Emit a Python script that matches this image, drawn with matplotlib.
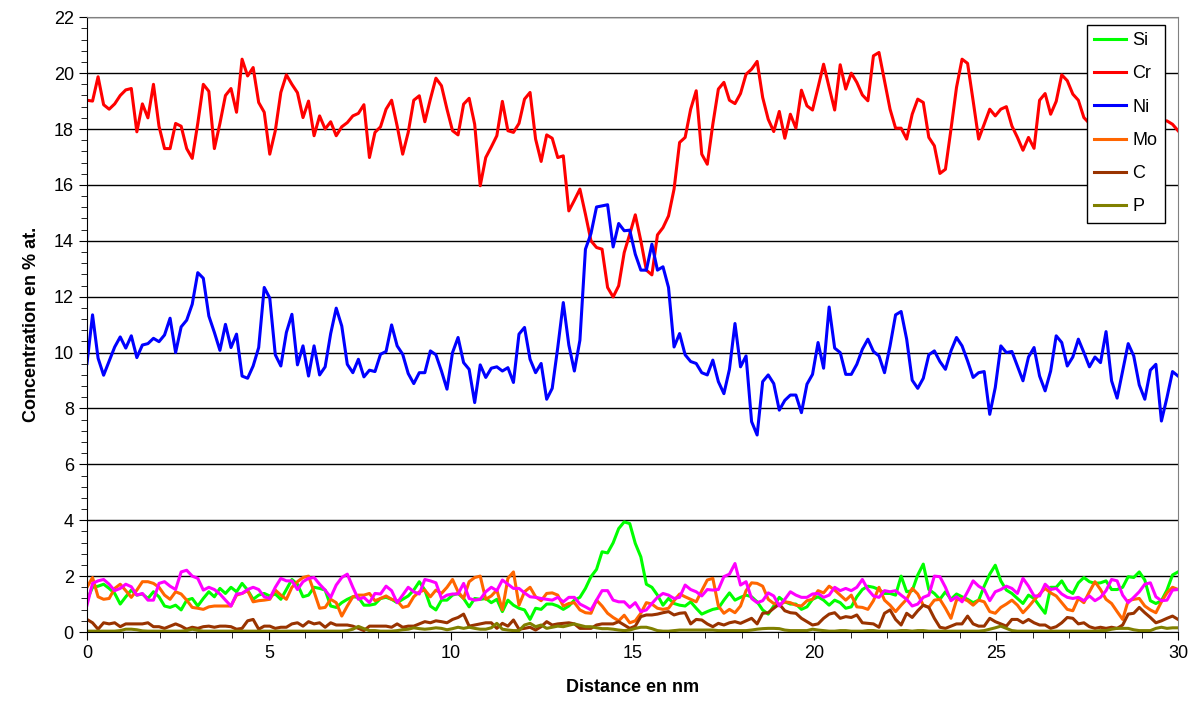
import numpy as np
import matplotlib.pyplot as plt
from matplotlib.ticker import MultipleLocator

plt.rcParams['font.family'] = ['Liberation Sans', 'DejaVu Sans']

# concentration profiles (% at.), one value every ~0.152 nm from 0 to 30 nm
cr = [19.03, 19.0, 19.87, 18.87, 18.71, 18.9, 19.2, 19.4, 19.45, 17.9,
      18.9, 18.4, 19.6, 18.1, 17.3, 17.3, 18.2, 18.1, 17.3, 16.95,
      18.2, 19.6, 19.35, 17.3, 18.2, 19.2, 19.45, 18.6, 20.5, 19.9,
      20.2, 18.95, 18.6, 17.1, 17.94, 19.31, 19.94, 19.6, 19.3, 18.41,
      19.0, 17.76, 18.47, 18.0, 18.26, 17.76, 18.08, 18.23, 18.47, 18.56,
      18.87, 16.98, 17.88, 18.08, 18.71, 19.03, 18.11, 17.1, 17.88, 19.03,
      19.19, 18.26, 19.07, 19.82, 19.55, 18.71, 17.94, 17.79, 18.89, 19.1,
      18.17, 15.97, 16.98, 17.36, 17.76, 18.99, 17.94, 17.88, 18.2, 19.07,
      19.31, 17.64, 16.84, 17.79, 17.67, 16.98, 17.04, 15.07, 15.45, 15.85,
      14.95, 14.0, 13.76, 13.7, 12.33, 11.99, 12.39, 13.58, 14.24, 14.93,
      14.0, 12.95, 12.78, 14.21, 14.47, 14.89, 15.85, 17.52, 17.7, 18.71,
      19.37, 17.1, 16.74, 18.17, 19.43, 19.67, 19.03, 18.91, 19.27, 19.96,
      20.14, 20.42, 19.13, 18.35, 17.91, 18.63, 17.67, 18.53, 18.03, 19.39,
      18.83, 18.68, 19.49, 20.32, 19.49, 18.68, 20.3, 19.43, 20.0, 19.67,
      19.22, 19.01, 20.62, 20.74, 19.73, 18.71, 18.03, 18.03, 17.64, 18.53,
      19.07, 18.95, 17.7, 17.4, 16.41, 16.56, 17.99, 19.49, 20.5, 20.35,
      19.01, 17.64, 18.17, 18.71, 18.47, 18.71, 18.8, 18.11, 17.7, 17.24,
      17.7, 17.31, 19.03, 19.27, 18.53, 18.99, 19.94, 19.73, 19.25, 19.03,
      18.41, 18.2, 18.6, 19.0, 18.4, 17.9, 18.3, 18.8, 18.5, 18.0,
      18.4, 18.9, 18.6, 18.1, 18.3, 18.29, 18.17, 17.94]

ni = [9.61, 11.35, 9.8, 9.19, 9.7, 10.2, 10.56, 10.16, 10.6, 9.82,
      10.27, 10.32, 10.51, 10.39, 10.63, 11.23, 10.0, 10.92, 11.16, 11.73,
      12.86, 12.66, 11.31, 10.72, 10.08, 11.01, 10.18, 10.66, 9.16, 9.08,
      9.52, 10.18, 12.33, 11.95, 9.92, 9.52, 10.72, 11.37, 9.56, 10.24,
      9.16, 10.24, 9.2, 9.49, 10.68, 11.59, 10.95, 9.58, 9.28, 9.76,
      9.13, 9.37, 9.32, 9.94, 10.04, 10.99, 10.24, 9.94, 9.25, 8.89,
      9.28, 9.28, 10.06, 9.92, 9.34, 8.69, 10.0, 10.54, 9.64, 9.4,
      8.21, 9.56, 9.11, 9.44, 9.49, 9.34, 9.46, 8.93, 10.66, 10.9,
      9.76, 9.28, 9.61, 8.33, 8.72, 10.18, 11.79, 10.27, 9.34, 10.44,
      13.7, 14.26, 15.21, 15.25, 15.29, 13.78, 14.62, 14.36, 14.38, 13.52,
      12.95, 12.95, 13.88, 12.95, 13.07, 12.33, 10.2, 10.68, 9.92, 9.68,
      9.61, 9.28, 9.2, 9.73, 8.96, 8.53, 9.4, 11.04, 9.49, 9.88,
      7.53, 7.05, 8.96, 9.2, 8.89, 7.94, 8.29, 8.48, 8.48, 7.85,
      8.87, 9.22, 10.36, 9.44, 11.63, 10.16, 10.0, 9.22, 9.22, 9.58,
      10.12, 10.48, 10.04, 9.88, 9.28, 10.24, 11.35, 11.47, 10.48, 9.01,
      8.72, 9.08, 9.92, 10.06, 9.68, 9.4, 10.06, 10.54, 10.24, 9.7,
      9.11, 9.28, 9.32, 7.79, 8.75, 10.24, 10.0, 10.04, 9.52, 8.99,
      9.84, 10.18, 9.16, 8.63, 9.34, 10.6, 10.36, 9.52, 9.84, 10.48,
      10.0, 9.49, 9.84, 9.64, 10.75, 8.99, 8.37, 9.34, 10.32, 9.88,
      8.84, 8.33, 9.37, 9.58, 7.55, 8.39, 9.32, 9.16]

si = [1.14, 1.6, 1.64, 1.71, 1.56, 1.38, 1.0, 1.26, 1.5, 1.32,
      1.36, 1.2, 1.44, 1.26, 0.93, 0.88, 0.96, 0.79, 1.14, 1.2,
      0.93, 1.2, 1.44, 1.26, 1.56, 1.38, 1.6, 1.44, 1.74, 1.5,
      1.17, 1.32, 1.38, 1.29,
      1.36, 1.17, 1.52, 1.88, 1.71, 1.26, 1.32, 1.6, 1.56, 1.5,
      0.93, 0.88, 1.05, 1.17, 1.26, 1.24, 0.96, 0.96, 1.0, 1.2,
      1.24, 1.17, 1.05, 1.17, 1.29, 1.5, 1.8, 1.5, 0.93, 0.79,
      1.14, 1.14, 1.32,
      1.38, 1.2, 0.9, 1.2, 1.17, 1.2, 1.05, 1.17, 0.73, 1.14,
      0.96, 0.85, 0.79, 0.45, 0.85, 0.81, 1.0, 1.0, 0.93, 0.81,
      0.93, 1.14, 1.24, 1.56, 1.98, 2.24, 2.87, 2.83, 3.19, 3.7,
      3.94, 3.88,
      3.17, 2.69, 1.71, 1.6, 1.32, 0.96, 1.2, 1.02, 0.96, 0.93,
      1.08, 0.85, 0.64, 0.73, 0.81, 0.85, 1.14, 1.4, 1.14, 1.24,
      1.32, 1.26, 1.08, 0.79, 0.64, 0.93, 1.24, 1.08, 1.0, 1.0,
      0.81, 0.9, 1.17,
      1.26, 1.14, 0.96, 1.14, 1.05, 0.85, 0.9, 1.26, 1.52, 1.64,
      1.6, 1.52, 1.38, 1.38, 1.32, 2.0, 1.44, 1.48, 2.04, 2.43,
      1.52, 1.38, 1.17, 1.44, 1.17, 1.36, 1.26, 1.17, 1.05, 1.14,
      1.64, 2.07, 2.39,
      1.83, 1.5, 1.38, 1.2, 1.02, 1.32, 1.2, 0.93, 0.67, 1.6,
      1.6, 1.83, 1.5, 1.38, 1.76, 1.95, 1.8, 1.74, 1.76, 1.83,
      1.52, 1.52, 1.6, 1.98, 1.95, 2.15, 1.86, 1.12, 1.02, 1.12,
      1.5, 2.04, 2.15]

mo = [1.6, 1.95, 1.26, 1.17, 1.2, 1.56, 1.71, 1.48, 1.24, 1.5,
      1.8, 1.8, 1.74, 1.6, 1.32, 1.17, 1.44, 1.36, 1.14, 0.88,
      0.85, 0.81, 0.9, 0.93, 0.93, 0.93, 0.93, 1.32, 1.38, 1.48,
      1.08, 1.12, 1.14, 1.17,
      1.5, 1.32, 1.17, 1.6, 1.8, 1.95, 2.0, 1.44, 0.85, 0.88,
      1.17, 1.05, 0.57, 0.93, 1.26, 1.32, 1.32, 1.38, 1.12, 1.2,
      1.29, 1.17, 1.12, 0.88, 0.93, 1.26, 1.44, 1.5, 1.26, 1.5,
      1.38, 1.6, 1.88,
      1.44, 1.2, 1.8, 1.95, 2.0, 1.17, 1.29, 1.5, 0.79, 1.92,
      2.15, 0.96, 1.44, 1.6, 1.26, 1.12, 1.38, 1.4, 1.32, 0.93,
      1.02, 1.05, 0.79, 0.69, 0.67, 1.14, 0.93, 0.67, 0.52, 0.4,
      0.6, 0.33,
      0.4, 0.67, 1.05, 1.0, 0.85, 0.81, 0.85, 1.12, 1.36, 1.26,
      1.17, 1.08, 1.48, 1.86, 1.92, 0.93, 0.67, 0.81, 0.69, 0.93,
      1.48, 1.76, 1.74, 1.64, 1.17, 1.02, 0.96, 1.08, 1.05, 0.96,
      0.93, 1.12, 1.17,
      1.48, 1.4, 1.64, 1.5, 1.32, 1.14, 1.32, 0.9, 0.88, 0.81,
      1.12, 1.6, 1.14, 0.96, 0.73, 0.96, 1.17, 1.56, 1.36, 0.96,
      0.88, 1.14, 1.17, 0.85, 0.49, 1.14, 1.2, 1.12, 0.96, 1.14,
      1.08, 0.73, 0.67,
      0.88, 1.0, 1.14, 0.96, 0.69, 0.9, 1.14, 1.36, 1.56, 1.4,
      1.29, 1.05, 0.81, 0.76, 1.2, 1.05, 1.44, 1.8, 1.52, 1.17,
      1.02, 0.73, 0.45, 1.12, 1.17, 1.2, 0.93, 0.79, 0.69, 1.08,
      1.4, 1.6, 1.52]

c = [0.45, 0.33, 0.1, 0.33, 0.29, 0.33, 0.19, 0.29, 0.29, 0.29,
     0.29, 0.33, 0.19, 0.19, 0.13, 0.21, 0.29, 0.21, 0.1, 0.17,
     0.13, 0.19, 0.21, 0.17, 0.21, 0.21, 0.19, 0.1, 0.13, 0.4,
     0.45, 0.1, 0.21, 0.21,
     0.13, 0.17, 0.17, 0.29, 0.33, 0.21, 0.37, 0.29, 0.33, 0.17,
     0.33, 0.25, 0.25, 0.25, 0.21, 0.13, 0.05, 0.21, 0.21, 0.21,
     0.21, 0.17, 0.29, 0.17, 0.21, 0.21, 0.29, 0.37, 0.33, 0.4,
     0.37, 0.33, 0.45,
     0.52, 0.64, 0.21, 0.25, 0.29, 0.33, 0.33, 0.13, 0.31, 0.21,
     0.43, 0.1, 0.13, 0.17, 0.07, 0.19, 0.37, 0.25, 0.29, 0.31,
     0.33, 0.29, 0.13, 0.13, 0.13, 0.25, 0.29, 0.29, 0.29, 0.37,
     0.25, 0.13,
     0.21, 0.55, 0.61, 0.61, 0.64, 0.69, 0.73, 0.61, 0.67, 0.69,
     0.29, 0.45, 0.43, 0.29, 0.19, 0.31, 0.25, 0.33, 0.37, 0.31,
     0.4, 0.49, 0.29, 0.67, 0.69, 0.85, 1.0, 0.76, 0.69, 0.67,
     0.49, 0.37, 0.25,
     0.29, 0.49, 0.64, 0.69, 0.49, 0.55, 0.52, 0.61, 0.33, 0.31,
     0.29, 0.17, 0.67, 0.79, 0.45, 0.25, 0.67, 0.52, 0.76, 0.96,
     0.88, 0.49, 0.17, 0.13, 0.21, 0.29, 0.29, 0.57, 0.29, 0.21,
     0.21, 0.49, 0.37,
     0.29, 0.21, 0.45, 0.45, 0.33, 0.45, 0.33, 0.25, 0.25, 0.13,
     0.19, 0.33, 0.52, 0.49, 0.29, 0.33, 0.19, 0.13, 0.17, 0.13,
     0.17, 0.13, 0.25, 0.64, 0.67, 0.88, 0.69, 0.52, 0.33, 0.4,
     0.49, 0.57, 0.45]

p = [0.03, 0.03, 0.03, 0.03, 0.03, 0.03, 0.05, 0.1, 0.1, 0.08,
     0.04, 0.03, 0.03, 0.03, 0.03, 0.03, 0.03, 0.03, 0.05, 0.1,
     0.06, 0.03, 0.03, 0.03, 0.03, 0.03, 0.03, 0.03, 0.03, 0.03,
     0.03, 0.03, 0.03, 0.03,
     0.03, 0.03, 0.03, 0.03, 0.03, 0.03, 0.03, 0.03, 0.03, 0.03,
     0.03, 0.03, 0.03, 0.05, 0.1, 0.2, 0.12, 0.05, 0.05, 0.03,
     0.03, 0.03, 0.05, 0.08, 0.1, 0.15, 0.12, 0.1, 0.12, 0.15,
     0.13, 0.08, 0.12,
     0.17, 0.13, 0.17, 0.13, 0.1, 0.1, 0.15, 0.31, 0.1, 0.07,
     0.05, 0.05, 0.25, 0.31, 0.19, 0.25, 0.13, 0.17, 0.21, 0.19,
     0.24, 0.29, 0.24, 0.19, 0.19, 0.15, 0.12, 0.12, 0.1, 0.07,
     0.05, 0.07,
     0.13, 0.17, 0.17, 0.12, 0.05, 0.03, 0.03, 0.05, 0.07, 0.07,
     0.07, 0.07, 0.07, 0.07, 0.07, 0.05, 0.05, 0.05, 0.05, 0.05,
     0.05, 0.07, 0.1, 0.12, 0.13, 0.13, 0.12, 0.07, 0.05, 0.05,
     0.05, 0.05, 0.1,
     0.07, 0.05, 0.03, 0.03, 0.05, 0.05, 0.03, 0.03, 0.03, 0.05,
     0.05, 0.03, 0.03, 0.03, 0.03, 0.05, 0.05, 0.03, 0.05, 0.05,
     0.03, 0.03, 0.03, 0.03, 0.03, 0.03, 0.03, 0.03, 0.03, 0.03,
     0.05, 0.1, 0.15,
     0.21, 0.13, 0.05, 0.03, 0.03, 0.03, 0.03, 0.03, 0.03, 0.03,
     0.03, 0.03, 0.03, 0.03, 0.03, 0.03, 0.03, 0.03, 0.05, 0.05,
     0.1, 0.13, 0.13, 0.13, 0.08, 0.05, 0.05, 0.05, 0.13, 0.17,
     0.13, 0.15, 0.15]

# unlabelled magenta series
extra = [0.96, 1.74, 1.83, 1.88, 1.71, 1.48, 1.56, 1.71, 1.62, 1.32,
         1.38, 1.14, 1.14, 1.74, 1.8, 1.64, 1.52, 2.15, 2.21, 2.0,
         1.92, 1.5, 1.6, 1.52, 1.36, 1.14, 0.93, 1.36, 1.38, 1.52,
         1.6, 1.52, 1.26, 1.2,
         1.6, 1.92, 1.83, 1.83, 1.52, 1.8, 1.92, 1.95, 1.71, 1.5,
         1.24, 1.68, 1.95, 2.07, 1.6, 1.17, 1.24, 1.05, 1.38, 1.36,
         1.64, 1.48, 1.05, 1.32, 1.6, 1.44, 1.36, 1.88, 1.83, 1.76,
         1.2, 1.32, 1.36,
         1.36, 1.74, 1.2, 1.14, 1.17, 1.44, 1.6, 1.48, 1.86, 1.71,
         1.56, 1.56, 1.4, 1.26, 1.24, 1.2, 1.17, 1.14, 1.24, 1.08,
         1.24, 1.24, 1.0, 0.9, 0.79, 1.14, 1.48, 1.48, 1.14, 1.08,
         1.08, 0.88,
         1.05, 0.73, 0.79, 1.02, 1.24, 1.38, 1.32, 1.2, 1.24, 1.68,
         1.52, 1.44, 1.29, 1.52, 1.5, 1.52, 1.98, 2.07, 2.45, 1.68,
         1.8, 1.2, 1.05, 1.12, 1.4, 1.29, 0.93, 1.17, 1.44, 1.32,
         1.24, 1.24, 1.36,
         1.38, 1.24, 1.32, 1.6, 1.48, 1.56, 1.48, 1.6, 1.88, 1.52,
         1.29, 1.24, 1.48, 1.44, 1.48, 1.32, 1.17, 0.93, 1.0, 1.24,
         1.32, 2.0, 1.98, 1.6, 1.12, 1.26, 1.08, 1.44, 1.83, 1.64,
         1.52, 1.12, 1.44,
         1.52, 1.64, 1.56, 1.38, 1.92, 1.64, 1.29, 1.29, 1.71, 1.52,
         1.56, 1.36, 1.24, 1.2, 1.24, 1.12, 1.29, 1.12, 1.24, 1.48,
         1.88, 1.83, 1.32, 1.05, 1.24, 1.44, 1.71, 1.76, 1.26, 1.12,
         1.14, 1.5, 1.52]

n = len(cr)
for s in (ni, si, mo, c, p, extra):
    assert len(s) == n, len(s)
dist = np.linspace(0, 30, n)

fig = plt.figure(figsize=(12, 7.19), dpi=100)
ax = fig.add_axes([0.0725, 0.121, 0.9092, 0.855])

lw = 2.2
ax.plot(dist, si, color="#00FF00", lw=lw, label="Si")
ax.plot(dist, cr, color="#FF0000", lw=lw, label="Cr")
ax.plot(dist, ni, color="#0000FF", lw=lw, label="Ni")
ax.plot(dist, mo, color="#FF6600", lw=lw, label="Mo")
ax.plot(dist, c, color="#993300", lw=lw, label="C")
ax.plot(dist, p, color="#808000", lw=lw, label="P")
ax.plot(dist, extra, color="#FF00FF", lw=lw)

ax.set_xlim(0, 30)
ax.set_ylim(0, 22)
ax.xaxis.set_major_locator(MultipleLocator(5))
ax.xaxis.set_minor_locator(MultipleLocator(1))
ax.yaxis.set_major_locator(MultipleLocator(2))
ax.yaxis.set_minor_locator(MultipleLocator(0.4))
ax.tick_params(which="both", direction="out", labelsize=13)
ax.tick_params(which="major", length=6)
ax.tick_params(which="minor", length=4)
ax.grid(axis="y", which="major", color="black", lw=1)
ax.set_axisbelow(True)
for side in ("top", "right"):
    ax.spines[side].set_color("#808080")

ax.set_xlabel("Distance en nm", fontsize=13, fontweight="bold", labelpad=12)
ax.set_ylabel("Concentration en % at.", fontsize=13, fontweight="bold", labelpad=10)

leg = ax.legend(loc="upper right", bbox_to_anchor=(0.988, 0.988), borderaxespad=0,
                fontsize=13, frameon=True, fancybox=False, edgecolor="black",
                handlelength=1.75, handletextpad=0.35, labelspacing=0.9,
                borderpad=0.42)
leg.get_frame().set_linewidth(1.0)
leg.get_frame().set_alpha(1)

plt.savefig("out.png", dpi=100)
